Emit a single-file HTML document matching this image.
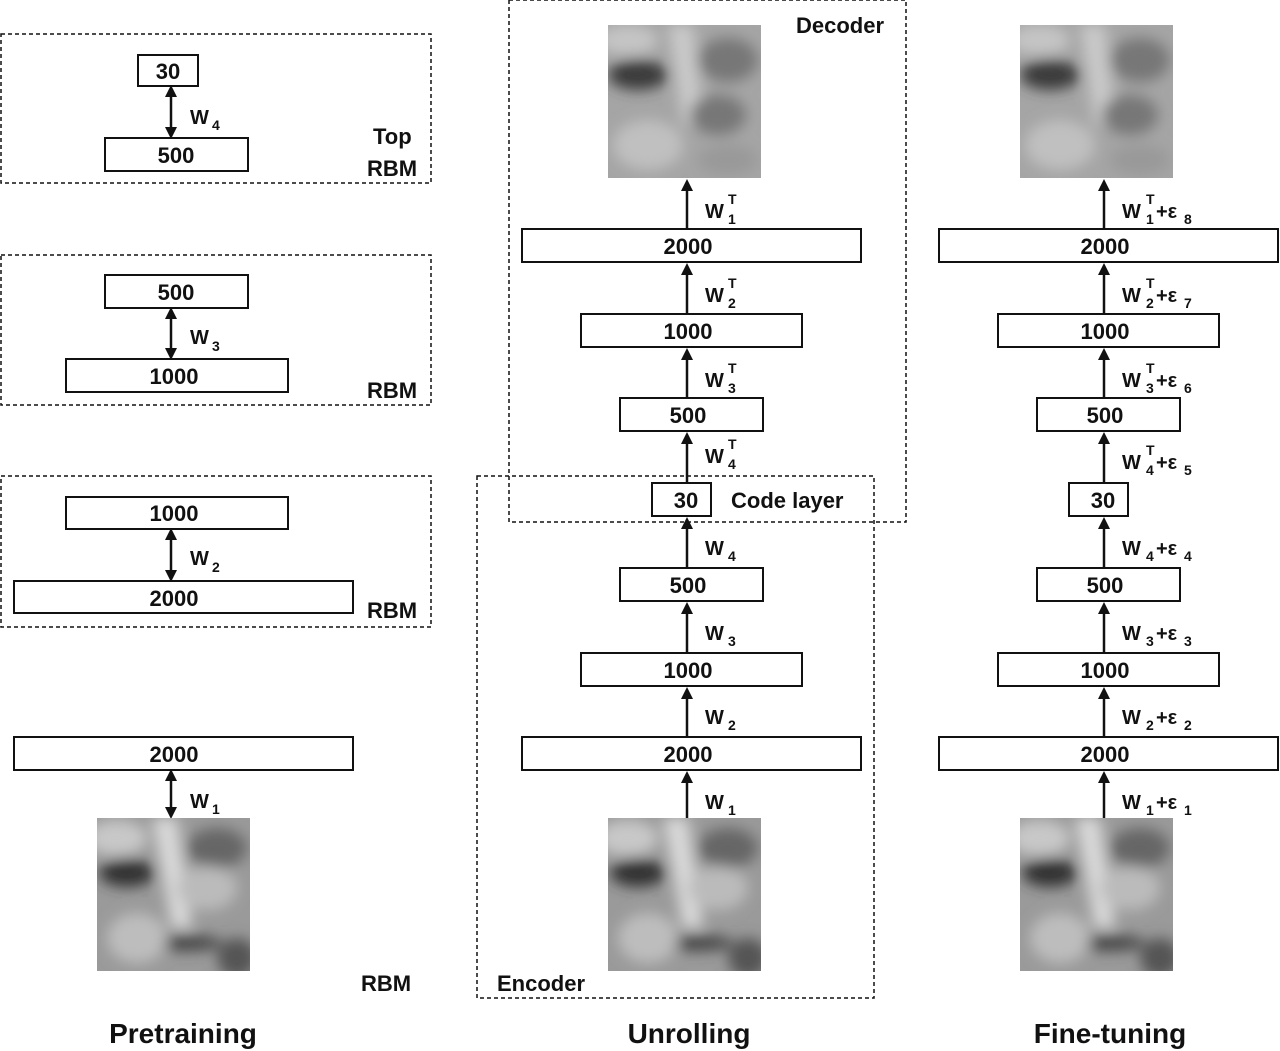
<!DOCTYPE html>
<html><head><meta charset="utf-8"><style>
html,body{margin:0;padding:0;background:#fff;}
svg{display:block;font-family:"Liberation Sans",Arial,sans-serif;}
.b{font-weight:bold;font-size:22px;text-anchor:middle;fill:#111;}
.w{font-weight:bold;font-size:20px;fill:#111;}
.s{font-weight:bold;font-size:14px;fill:#111;}
.t{font-weight:bold;font-size:28px;text-anchor:middle;fill:#111;}
.l{font-weight:bold;font-size:22px;fill:#111;}
rect.n{fill:#fff;stroke:#111;stroke-width:2;}
rect.d{fill:none;stroke:#111;stroke-width:1.5;stroke-dasharray:4,3;}
line.a{stroke:#111;stroke-width:2.5;}
</style></head><body>
<svg width="1280" height="1051" viewBox="0 0 1280 1051">
<defs>
<marker id="ah" markerWidth="12" markerHeight="12" refX="6" refY="6" orient="auto" markerUnits="userSpaceOnUse"><path d="M0,0 L12,6 L0,12 z" fill="#111"/></marker>
<marker id="ah2" markerWidth="12" markerHeight="12" refX="6" refY="6" orient="auto-start-reverse" markerUnits="userSpaceOnUse"><path d="M0,0 L12,6 L0,12 z" fill="#111"/></marker>
<filter id="bl" x="-20%" y="-20%" width="140%" height="140%"><feGaussianBlur stdDeviation="7"/></filter>
<clipPath id="fc"><rect x="0" y="0" width="153" height="153"/></clipPath>
<g id="faceB" clip-path="url(#fc)">
<rect width="153" height="153" fill="#9a9a9a"/>
<g filter="url(#bl)">
<ellipse cx="30" cy="55" rx="28" ry="14" fill="#333"/>
<ellipse cx="20" cy="20" rx="30" ry="18" fill="#c8c8c8"/>
<path d="M55,0 L80,0 L95,110 L75,110 z" fill="#d8d8d8"/>
<ellipse cx="120" cy="30" rx="30" ry="20" fill="#666"/>
<ellipse cx="110" cy="70" rx="30" ry="22" fill="#bbb"/>
<ellipse cx="90" cy="125" rx="35" ry="8" fill="#444"/>
<ellipse cx="40" cy="120" rx="30" ry="25" fill="#bdbdbd"/>
<ellipse cx="140" cy="140" rx="20" ry="20" fill="#555"/>
</g></g>
<g id="faceT" clip-path="url(#fc)">
<rect width="153" height="153" fill="#a5a5a5"/>
<g filter="url(#bl)">
<ellipse cx="30" cy="50" rx="30" ry="15" fill="#3a3a3a"/>
<ellipse cx="20" cy="15" rx="30" ry="15" fill="#c5c5c5"/>
<path d="M60,0 L85,0 L95,100 L75,100 z" fill="#c9c9c9"/>
<ellipse cx="120" cy="35" rx="30" ry="22" fill="#777"/>
<ellipse cx="110" cy="90" rx="28" ry="20" fill="#777"/>
<ellipse cx="40" cy="120" rx="35" ry="25" fill="#c0c0c0"/>
<ellipse cx="120" cy="135" rx="30" ry="15" fill="#999"/>
</g></g>
</defs>

<rect class="d" x="1" y="34" width="430" height="149"/>
<rect class="d" x="1" y="255" width="430" height="150"/>
<rect class="d" x="1" y="476" width="430" height="151"/>
<rect class="n" x="138" y="55" width="60" height="31"/><text class="b" x="168" y="79">30</text>
<rect class="n" x="105" y="138" width="143" height="33"/><text class="b" x="176" y="163">500</text>
<line class="a" x1="171" y1="91" x2="171" y2="133" marker-start="url(#ah2)" marker-end="url(#ah2)"/>
<text class="w" x="190" y="124">W</text><text class="s" x="212" y="130">4</text>
<text class="l" x="373" y="144">Top</text><text class="l" x="367" y="176">RBM</text>

<rect class="n" x="105" y="275" width="143" height="33"/><text class="b" x="176" y="300">500</text>
<rect class="n" x="66" y="359" width="222" height="33"/><text class="b" x="174" y="384">1000</text>
<line class="a" x1="171" y1="313" x2="171" y2="354" marker-start="url(#ah2)" marker-end="url(#ah2)"/>
<text class="w" x="190" y="344">W</text><text class="s" x="212" y="351">3</text>
<text class="l" x="367" y="398">RBM</text>

<rect class="n" x="66" y="497" width="222" height="32"/><text class="b" x="174" y="521">1000</text>
<rect class="n" x="14" y="581" width="339" height="32"/><text class="b" x="174" y="606">2000</text>
<line class="a" x1="171" y1="534" x2="171" y2="576" marker-start="url(#ah2)" marker-end="url(#ah2)"/>
<text class="w" x="190" y="565">W</text><text class="s" x="212" y="572">2</text>
<text class="l" x="367" y="618">RBM</text>

<rect class="n" x="14" y="737" width="339" height="33"/><text class="b" x="174" y="762">2000</text>
<line class="a" x1="171" y1="775" x2="171" y2="813" marker-start="url(#ah2)" marker-end="url(#ah2)"/>
<text class="w" x="190" y="808">W</text><text class="s" x="212" y="814">1</text>
<use href="#faceB" x="97" y="818"/>
<text class="l" x="361" y="991">RBM</text>
<text class="t" x="183" y="1043">Pretraining</text>

<rect class="d" x="509" y="0" width="397" height="522"/>
<rect class="d" x="477" y="476" width="397" height="522"/>
<text class="l" x="796" y="33">Decoder</text>
<text class="l" x="497" y="991">Encoder</text>
<use href="#faceT" x="608" y="25"/>
<use href="#faceB" x="608" y="818"/>
<g id="col">
<line class="a" x1="687" y1="229" x2="687" y2="185" marker-end="url(#ah)"/>
<rect class="n" x="522" y="229" width="339" height="33"/><text class="b" x="688" y="254">2000</text>
<line class="a" x1="687" y1="314" x2="687" y2="269" marker-end="url(#ah)"/>
<rect class="n" x="581" y="314" width="221" height="33"/><text class="b" x="688" y="339">1000</text>
<line class="a" x1="687" y1="398" x2="687" y2="354" marker-end="url(#ah)"/>
<rect class="n" x="620" y="398" width="143" height="33"/><text class="b" x="688" y="423">500</text>
<line class="a" x1="687" y1="483" x2="687" y2="438" marker-end="url(#ah)"/>
<rect class="n" x="652" y="483" width="59" height="33"/><text class="b" x="686" y="508">30</text>
<line class="a" x1="687" y1="568" x2="687" y2="523" marker-end="url(#ah)"/>
<rect class="n" x="620" y="568" width="143" height="33"/><text class="b" x="688" y="593">500</text>
<line class="a" x1="687" y1="653" x2="687" y2="608" marker-end="url(#ah)"/>
<rect class="n" x="581" y="653" width="221" height="33"/><text class="b" x="688" y="678">1000</text>
<line class="a" x1="687" y1="737" x2="687" y2="693" marker-end="url(#ah)"/>
<rect class="n" x="522" y="737" width="339" height="33"/><text class="b" x="688" y="762">2000</text>
<line class="a" x1="687" y1="818" x2="687" y2="777" marker-end="url(#ah)"/>
</g>
<text class="l" x="731" y="508">Code layer</text>
<text class="w" x="705" y="218">W</text><text class="s" x="728" y="224">1</text><text class="s" x="728" y="204">T</text>
<text class="w" x="705" y="302">W</text><text class="s" x="728" y="308">2</text><text class="s" x="728" y="288">T</text>
<text class="w" x="705" y="387">W</text><text class="s" x="728" y="393">3</text><text class="s" x="728" y="373">T</text>
<text class="w" x="705" y="463">W</text><text class="s" x="728" y="469">4</text><text class="s" x="728" y="449">T</text>
<text class="w" x="705" y="555">W</text><text class="s" x="728" y="561">4</text>
<text class="w" x="705" y="640">W</text><text class="s" x="728" y="646">3</text>
<text class="w" x="705" y="724">W</text><text class="s" x="728" y="730">2</text>
<text class="w" x="705" y="809">W</text><text class="s" x="728" y="815">1</text>
<text class="t" x="689" y="1043">Unrolling</text>

<use href="#faceT" x="1020" y="25"/>
<use href="#faceB" x="1020" y="818"/>
<use href="#col" x="417" y="0"/>
<text class="w" x="1122" y="218">W</text><text class="s" x="1146" y="224">1</text><text class="s" x="1146" y="204">T</text><text class="w" x="1156" y="218">+ε</text><text class="s" x="1184" y="224">8</text>
<text class="w" x="1122" y="302">W</text><text class="s" x="1146" y="308">2</text><text class="s" x="1146" y="288">T</text><text class="w" x="1156" y="302">+ε</text><text class="s" x="1184" y="308">7</text>
<text class="w" x="1122" y="387">W</text><text class="s" x="1146" y="393">3</text><text class="s" x="1146" y="373">T</text><text class="w" x="1156" y="387">+ε</text><text class="s" x="1184" y="393">6</text>
<text class="w" x="1122" y="469">W</text><text class="s" x="1146" y="475">4</text><text class="s" x="1146" y="455">T</text><text class="w" x="1156" y="469">+ε</text><text class="s" x="1184" y="475">5</text>
<text class="w" x="1122" y="555">W</text><text class="s" x="1146" y="561">4</text><text class="w" x="1156" y="555">+ε</text><text class="s" x="1184" y="561">4</text>
<text class="w" x="1122" y="640">W</text><text class="s" x="1146" y="646">3</text><text class="w" x="1156" y="640">+ε</text><text class="s" x="1184" y="646">3</text>
<text class="w" x="1122" y="724">W</text><text class="s" x="1146" y="730">2</text><text class="w" x="1156" y="724">+ε</text><text class="s" x="1184" y="730">2</text>
<text class="w" x="1122" y="809">W</text><text class="s" x="1146" y="815">1</text><text class="w" x="1156" y="809">+ε</text><text class="s" x="1184" y="815">1</text>
<text class="t" x="1110" y="1043">Fine-tuning</text>
</svg>
</body></html>
